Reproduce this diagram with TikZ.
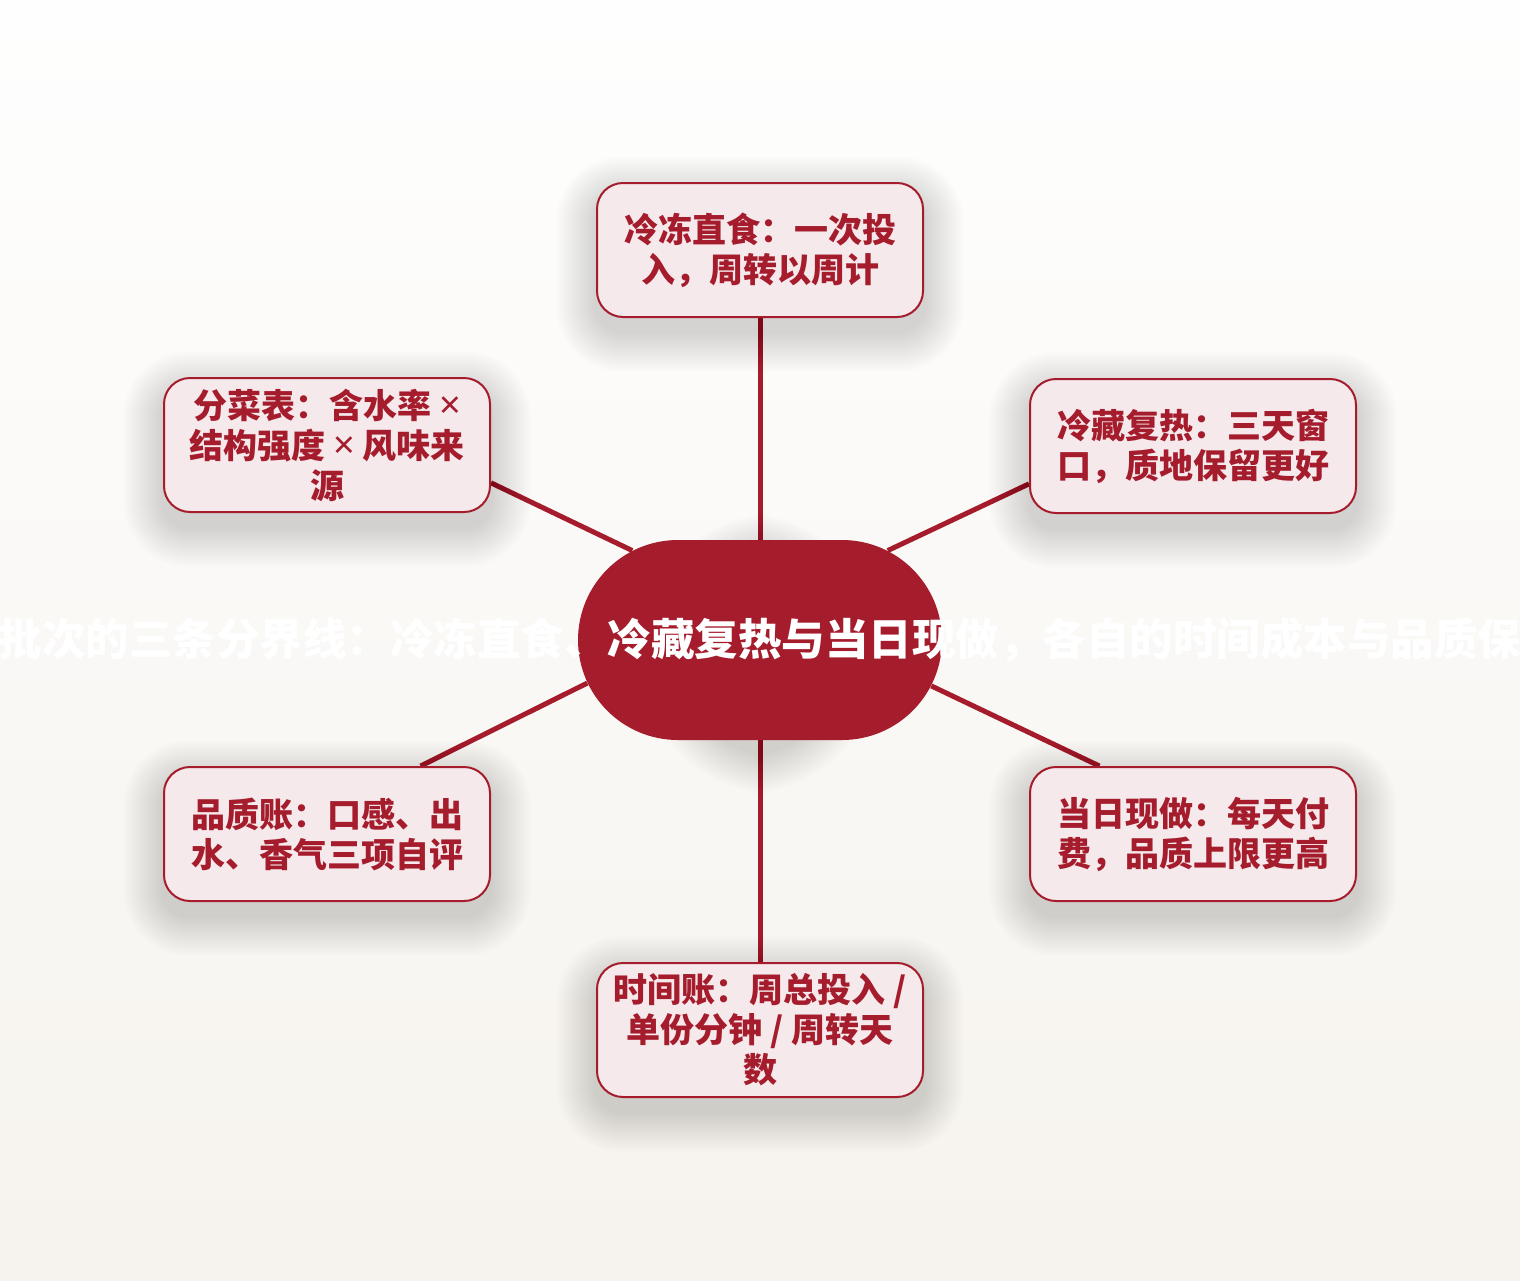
\documentclass[tikz,border=0pt]{standalone}
\usepackage{fontspec}
\setmainfont{Noto Sans CJK SC}
\newfontfamily\latinfont{Noto Sans}
\usepackage{tikz}
\usetikzlibrary{shapes,shapes.misc,positioning}
\definecolor{wine}{RGB}{165, 28, 44}
\definecolor{blush}{RGB}{245, 233, 236}
\definecolor{paper}{RGB}{254, 254, 254}
\definecolor{sand}{RGB}{246, 243, 238}
\pgfdeclarelayer{paperbg}
\pgfdeclarelayer{edges}
\pgfdeclarelayer{glow}
\pgfsetlayers{paperbg,edges,glow,main}
\newcommand{\crossmark}{{\latinfont\bfseries\fontsize{19}{20}\selectfont ×}}
% soft shadow under a node: name, corner radius (pt)
\newcommand{\softshadow}[2]{%
    \foreach \g in {1,...,20} {
        \pgfmathsetmacro{\rr}{#2+\g}
        \fill[black, opacity=0.0075, rounded corners=\rr pt]
            ([xshift=-\g pt, yshift=-\g pt-7pt]#1.south west) rectangle ([xshift=\g pt, yshift=\g pt-7pt]#1.north east);
    }%
}
\tikzstyle{link} = [
    line width=2.5pt,
    draw=wine
]
\tikzstyle{leaf} = [
    rectangle,
    rounded corners=13pt,
    minimum width=163pt,
    minimum height=67pt,
    align=center,
    draw=wine,
    line width=1pt,
    fill=blush,
    text=wine,
    font=\bfseries\fontsize{17}{20}\selectfont
]
\tikzstyle{hub} = [
    rounded rectangle,
    minimum width=182pt,
    minimum height=100pt,
    inner sep=0pt,
    fill=wine
]
\tikzstyle{title} = [
    text=white,
    font=\bfseries\fontsize{21.75}{26}\selectfont
]

\begin{document}
\begin{tikzpicture}[x=0.5pt, y=-0.5pt]
    \useasboundingbox (0,0) rectangle (1520,1280);
    \begin{pgfonlayer}{paperbg}
        \foreach \i in {0,...,31} {
            \pgfmathsetmacro{\m}{\i*100/31}
            \fill[sand!\m!paper] (0,\i*40) rectangle (1520,\i*40+41);
        }
    \end{pgfonlayer}

    % centre
    \node[hub] (hub) at (760,640) {};
    \node[title] (hubtext) at (760,640) {批次的三条分界线：冷冻直食、冷藏复热与当日现做，各自的时间成本与品质保};

    % branches
    \node[leaf] (frozen) at (760,250) {冷冻直食：一次投\\入，周转以周计};
    \node[leaf] (chilled) at (1193,446) {冷藏复热：三天窗\\口，质地保留更好};
    \node[leaf] (fresh) at (1193,834) {当日现做：每天付\\费，品质上限更高};
    \node[leaf] (timebook) at (760,1030) {时间账：周总投入 /\\单份分钟 / 周转天\\数};
    \node[leaf] (quality) at (327,834) {品质账：口感、出\\水、香气三项自评};
    \node[leaf] (dishes) at (327,445) {分菜表：含水率 \crossmark\\结构强度 \crossmark{} 风味来\\源};

    \begin{pgfonlayer}{glow}
        \softshadow{hub}{49.9}
        \softshadow{frozen}{13}
        \softshadow{chilled}{13}
        \softshadow{fresh}{13}
        \softshadow{timebook}{13}
        \softshadow{quality}{13}
        \softshadow{dishes}{13}
    \end{pgfonlayer}

    \begin{pgfonlayer}{edges}
        \draw[link] (hub.north) -- (frozen.south);
        \draw[link] (hub.35) -- (chilled.193);
        \draw[link] (hub.-15) -- (fresh.144);
        \draw[link] (hub.south) -- (timebook.north);
        \draw[link] (hub.194) -- (quality.36);
        \draw[link] (hub.145) -- (dishes.-13);
    \end{pgfonlayer}
\end{tikzpicture}
\end{document}
